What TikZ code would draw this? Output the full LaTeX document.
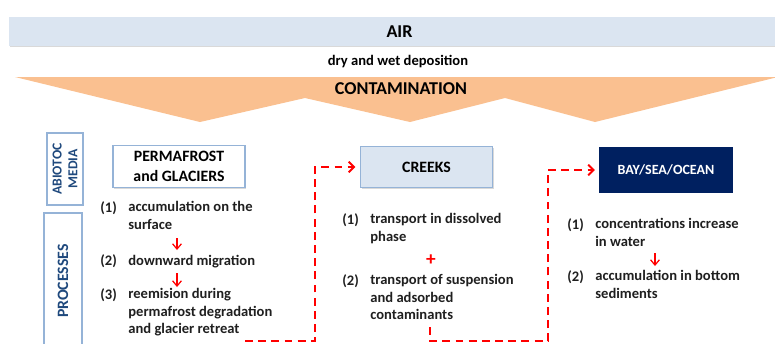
\documentclass[tikz,border=0pt]{standalone}
\usepackage{fontspec}
\setmainfont{Carlito}
\usetikzlibrary{arrows.meta,shadows}

\definecolor{airblue}{HTML}{DBE5F1}
\definecolor{boxline}{HTML}{95B3D7}
\definecolor{navy}{HTML}{002060}
\definecolor{labelblue}{HTML}{1F497D}
\definecolor{contam}{HTML}{FAC090}

\tikzset{
  boxshadow/.style={drop shadow={shadow xshift=0.6pt,shadow yshift=-0.8pt,opacity=0.3}},
  mediabox/.style={draw=boxline,line width=0.9pt,fill=white,boxshadow,
    minimum width=2.64cm,minimum height=0.82cm,align=center,
    font=\bfseries\fontsize{9}{11.4}\selectfont},
  sidebox/.style={draw=boxline,line width=0.9pt,fill=white,boxshadow,
    rotate=90,align=center,text=labelblue},
  bigtext/.style={font=\bfseries\fontsize{10.3}{12}\selectfont},
}

\begin{document}
\begin{tikzpicture}[x=0.02cm,y=-0.02cm,font=\bfseries\fontsize{8.3}{9.8}\selectfont]
\useasboundingbox (0,0) rectangle (775,343);
% air and contamination band
\node (air) [fill=airblue,boxshadow,minimum width=15.62cm,minimum height=0.58cm,bigtext] at (399.5,31.5) {AIR};
\node (dep) at (398,62) {dry and wet deposition};
\fill [contam] (15,77) -- (778,77) -- (595,122) -- (505,98) -- (410,122) -- (305,98) -- (200,122) -- cycle;
\node (contamination) [bigtext] at (401,89) {CONTAMINATION};
% side labels
\node (media) [sidebox,minimum width=1.44cm,minimum height=0.72cm,font=\bfseries\fontsize{7.8}{9}\selectfont] at (65,169) {ABIOTOC\\MEDIA};
\node (proc) [sidebox,minimum width=2.72cm,minimum height=0.76cm,font=\bfseries\fontsize{9}{11}\selectfont] at (63,281) {PROCESSES};
% media boxes
\node (perma) [mediabox] at (179,166.5) {PERMAFROST\\and GLACIERS};
\node (creeks) [mediabox,fill=airblue] at (426.5,167) {CREEKS};
\node (bay) [mediabox,fill=navy,draw=navy,text=white,minimum height=0.88cm,font=\bfseries\fontsize{8}{10}\selectfont] at (666,170) {BAY/SEA/OCEAN};
% processes (base = last line)
\begin{scope}[every node/.style={anchor=base west,inner sep=0pt,align=left,text=black!88}]
    \node (pn1) at (100,212) {(1)};
    \node (p1) at (128,229.2) {accumulation on the\\surface};
    \node (pn2) at (100,265) {(2)};
    \node (p2) at (128,265) {downward migration};
    \node (pn3) at (100,299) {(3)};
    \node (p3) at (128,333.4) {reemision during\\permafrost degradation\\and glacier retreat};
    \node (cn1) at (342,224) {(1)};
    \node (c1) at (370,241.2) {transport in dissolved\\phase};
    \node (cn2) at (342,285) {(2)};
    \node (c2) at (370,319.4) {transport of suspension\\and adsorbed\\contaminants};
    \node (bn1) at (567,229) {(1)};
    \node (b1) at (595,246.2) {concentrations increase\\in water};
    \node (bn2) at (567,281) {(2)};
    \node (b2) at (595,298.2) {accumulation in bottom\\sediments};
\end{scope}
\node (plus) [text=red,font=\bfseries\fontsize{11}{12}\selectfont] at (431,260) {+};
% arrow ends
\coordinate (pa1) at (177,238);
\coordinate (pa2) at (177,250);
\coordinate (pa3) at (177,273);
\coordinate (pa4) at (177,287);
\coordinate (ba1) at (655,253);
\coordinate (ba2) at (655,266);
\coordinate (s1) at (245,341);
\coordinate (k1) at (315,167);
\coordinate (s2) at (430,327);
\coordinate (k3) at (548,341);
\coordinate (k2) at (548,170);
\begin{scope}[>={Straight Barb[length=3pt,width=5pt]},
              every edge/.style={draw=red,line width=0.7pt}]
    \path [->] (pa1) edge (pa2);
    \path [->] (pa3) edge (pa4);
    \path [->] (ba1) edge (ba2);
\end{scope}
\begin{scope}[>={Straight Barb[length=3pt,width=6pt]},
              red,line width=1.1pt,dash pattern=on 4.5pt off 3pt]
    \draw [->,shorten >=2.5pt] (s1) -| (k1) -- (creeks);
    \draw [->,shorten >=2.5pt] (s2) |- (k3) -- (k2) -- (bay);
\end{scope}
\end{tikzpicture}
\end{document}
